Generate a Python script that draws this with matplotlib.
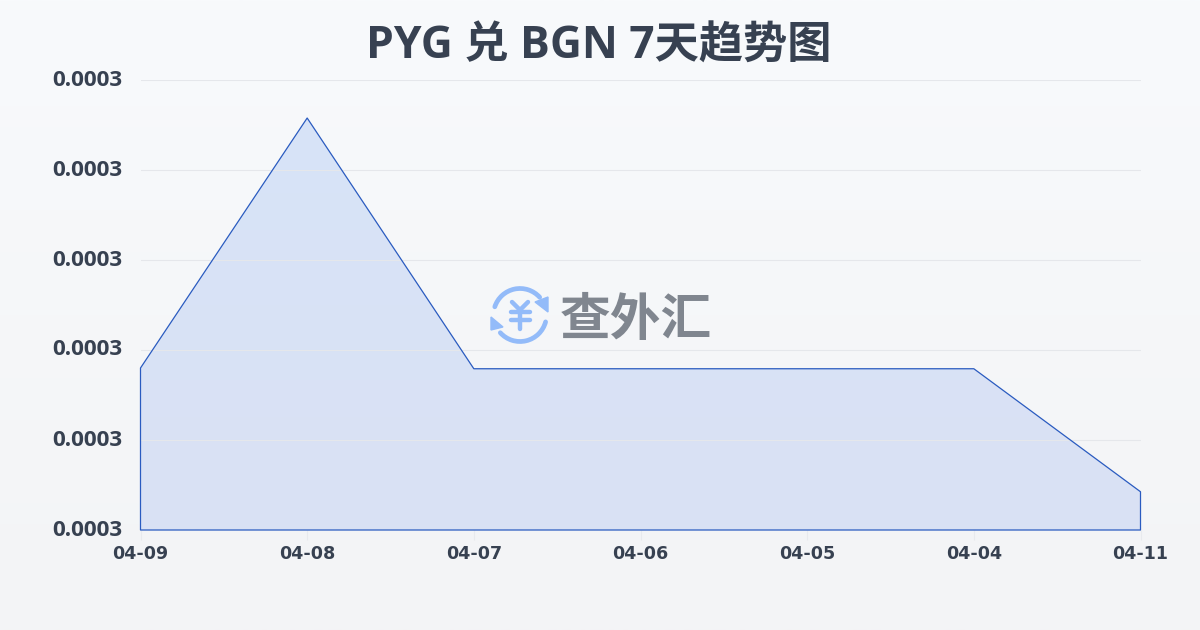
#!/usr/bin/env python3

import numpy as np
import matplotlib
matplotlib.use('Agg')
import matplotlib.pyplot as plt
from matplotlib.colors import LinearSegmentedColormap
from matplotlib.patches import Arc, Polygon
from matplotlib.transforms import ScaledTranslation

plt.rcParams['font.family'] = ['Open Sans', 'Noto Sans CJK SC', 'DejaVu Sans']

dates = ['04-09', '04-08', '04-07', '04-06', '04-05', '04-04', '04-11']
rates = [0.0003016, 0.00033493, 0.0003015, 0.0003015, 0.0003015, 0.0003015, 0.0002851]
y_ticks = [0.00028, 0.000292, 0.000304, 0.000316, 0.000328, 0.00034]

TEXT = '#374151'
LINE = '#2a5bc0'
LOGO = '#93bbf9'

fig = plt.figure(figsize=(12, 6.3), dpi=100)

# page background
bg = fig.add_axes([0, 0, 1, 1], zorder=0)
bg.imshow(np.linspace(0, 1, 256).reshape(-1, 1),
          cmap=LinearSegmentedColormap.from_list('bg', ['#f8fafc', '#f3f4f6']),
          aspect='auto', extent=(0, 1, 0, 1))
bg.axis('off')

ax = fig.add_axes([140.5 / 1200, 100 / 630, 1000 / 1200, 450 / 630], zorder=1)
ax.patch.set_alpha(0)
x = np.arange(len(dates))
ymin, ymax = y_ticks[0], y_ticks[-1]
ax.set_xlim(0, len(dates) - 1)
ax.set_ylim(ymin, ymax)

# area fill with a faint vertical gradient, clipped to the series outline
ax.fill_between(x, rates, ymin, facecolor='none', edgecolor=LINE, linewidth=0.9, zorder=3, clip_on=False)
grad = ax.imshow(np.linspace(0, 1, 256).reshape(-1, 1),
                 cmap=LinearSegmentedColormap.from_list('area', ['#d7e4f8', '#dae1f4']),
                 aspect='auto', extent=(0, len(dates) - 1, ymin, ymax), zorder=2)
clip = ax.fill_between(x, rates, ymin, facecolor='none', edgecolor='none')
grad.set_clip_path(clip.get_paths()[0], transform=ax.transData)

ax.set_xticks(x)
ax.set_xticklabels(dates)
ax.set_yticks(y_ticks)
ax.set_yticklabels(['%.4f' % v for v in y_ticks])
ax.grid(True, axis='y', color='#e5e7eb', linewidth=0.8, zorder=4)
ax.set_axisbelow(False)
for s in ax.spines.values():
    s.set_visible(False)
ax.tick_params(axis='x', length=7, width=0.8, color='#e8eaee', pad=4, labelcolor=TEXT)
ax.tick_params(axis='y', length=0, pad=13, labelcolor=TEXT)
for lab in ax.get_xticklabels():
    lab.set_fontsize(12.6)
    lab.set_fontweight('bold')
    lab.set_family('DejaVu Sans')
up = ScaledTranslation(0, 2.5 / 100, fig.dpi_scale_trans)
for lab in ax.get_yticklabels():
    lab.set_fontsize(16.2)
    lab.set_fontweight('bold')
    lab.set_transform(lab.get_transform() + up)

# overlay in pixel coordinates for title and watermark
over = fig.add_axes([0, 0, 1, 1], zorder=2)
over.set_xlim(0, 1200)
over.set_ylim(630, 0)
over.axis('off')
over.patch.set_alpha(0)

over.text(599, 47, 'PYG 兑 BGN 7天趋势图', ha='center', va='center',
          fontsize=31.9, fontweight='bold', color=TEXT)

over.text(636, 320, '查外汇', ha='center', va='center', fontsize=36.5,
          fontweight='bold', color='#80868f', family='Noto Sans CJK SC')

over.add_patch(Arc((520, 315), 53, 53, theta1=198, theta2=318, color=LOGO, lw=3.4, capstyle='round'))
over.add_patch(Arc((520, 315), 53, 53, theta1=15, theta2=138, color=LOGO, lw=3.4, capstyle='round'))
over.add_patch(Polygon([(535, 302), (548, 297), (548, 312)], closed=True, color=LOGO))
over.add_patch(Polygon([(491, 317), (503, 327), (491, 330)], closed=True, color=LOGO))
over.plot([512, 520, 528], [302, 310, 302], color=LOGO, lw=3.2, solid_capstyle='round')
over.plot([520, 520], [310, 329], color=LOGO, lw=3.2, solid_capstyle='round')
over.plot([510.5, 529.5], [312, 312], color=LOGO, lw=3.2, solid_capstyle='round')
over.plot([510.5, 529.5], [320, 320], color=LOGO, lw=3.2, solid_capstyle='round')

fig.savefig('out.png', dpi=100)
